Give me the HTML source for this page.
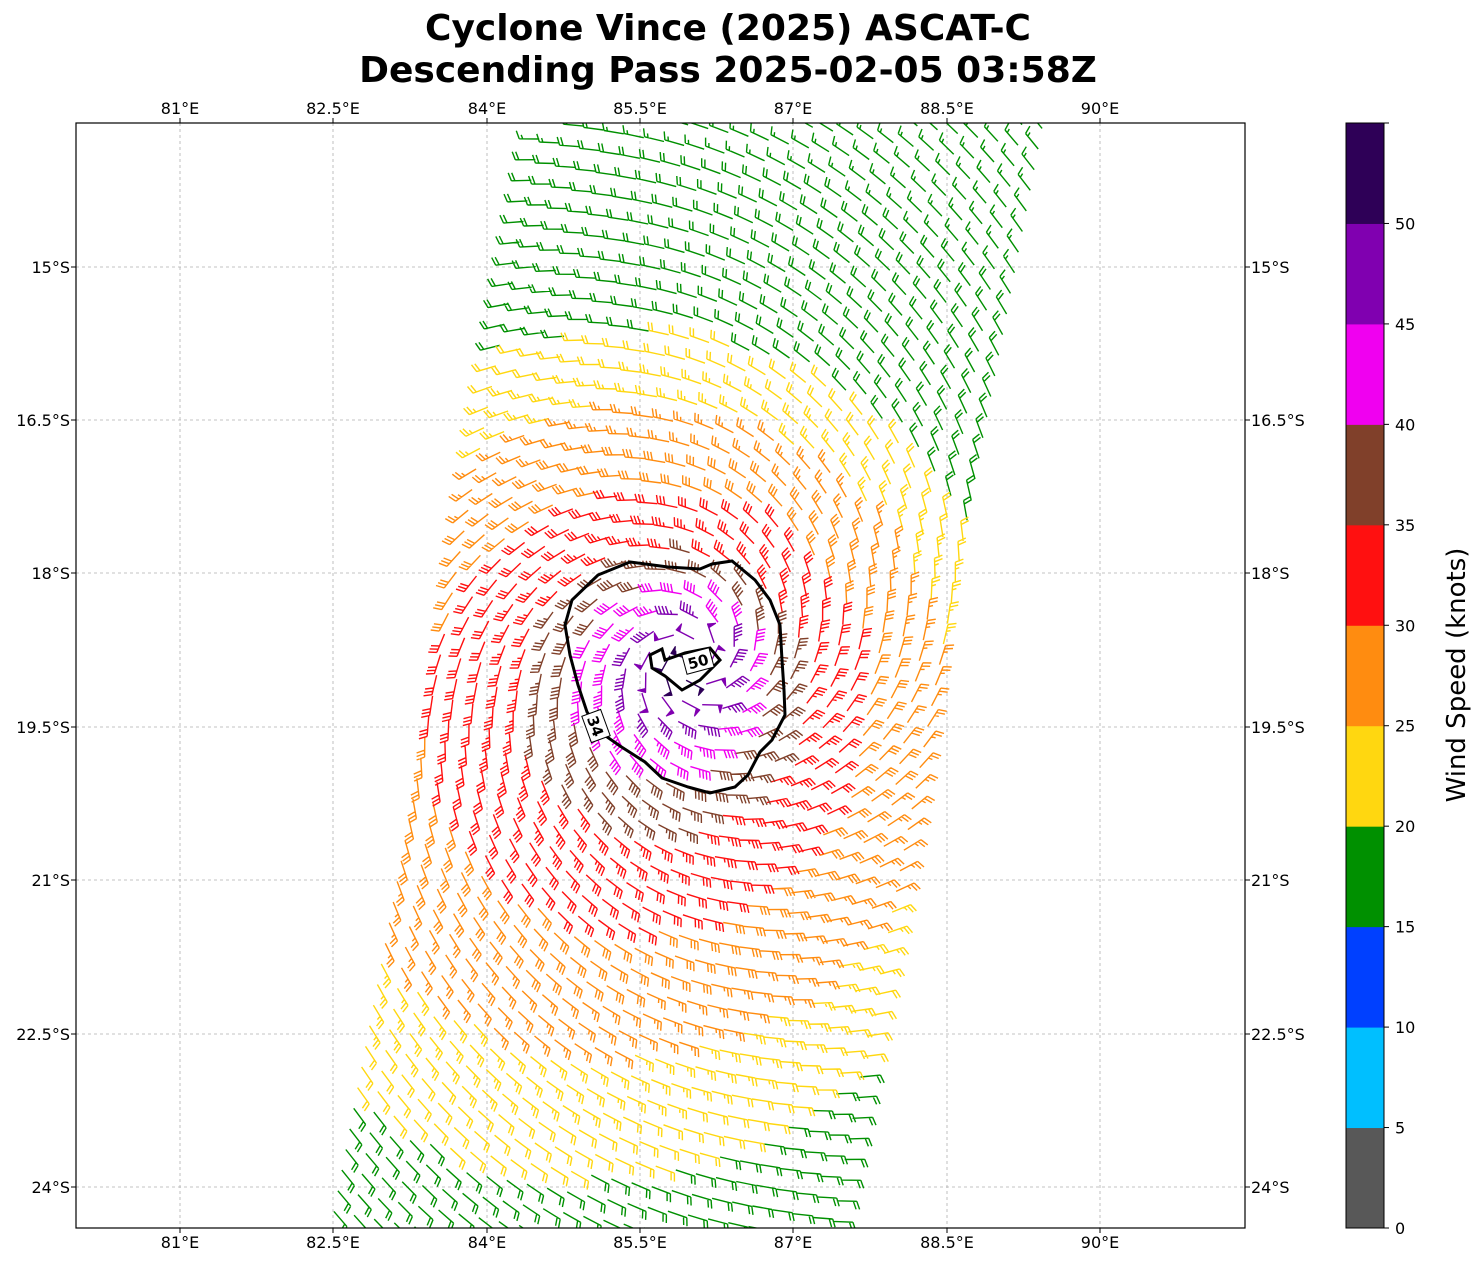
<!DOCTYPE html>
<html><head><meta charset="utf-8"><style>
html,body{margin:0;padding:0;background:#fff;}
svg{display:block;font-family:"DejaVu Sans","Liberation Sans",sans-serif;}
</style></head><body>
<svg id="s" width="1483" height="1264" viewBox="0 0 1483 1264" xmlns="http://www.w3.org/2000/svg">
<rect width="1483" height="1264" fill="#fff"/>
<text x="728" y="40" text-anchor="middle" font-size="36" font-weight="bold">Cyclone Vince (2025) ASCAT-C</text>
<text x="728" y="82" text-anchor="middle" font-size="36" font-weight="bold">Descending Pass 2025-02-05 03:58Z</text>
<defs><clipPath id="cp"><rect x="76" y="123" width="1169" height="1105"/></clipPath></defs>
<g id="grid" stroke="#b0b0b0" stroke-width="0.8" stroke-dasharray="3,3"></g>
<g id="barbs" clip-path="url(#cp)"></g>
<g id="cont" fill="none" stroke="#000" stroke-width="3"></g>
<rect x="76" y="123" width="1169" height="1105" fill="none" stroke="#000" stroke-width="1.2"/>
<g id="labels" font-size="16"></g>
<g id="cbar"></g>
<text transform="translate(1465,675) rotate(-90)" text-anchor="middle" font-size="26">Wind Speed (knots)</text>
</svg>
<script>
var NS="http://www.w3.org/2000/svg";
function el(t,a,p){var e=document.createElementNS(NS,t);for(var k in a)e.setAttribute(k,a[k]);p.appendChild(e);return e;}
var G=document.getElementById('grid'),L=document.getElementById('labels');
var lons=[["81°E",180],["82.5°E",333],["84°E",487],["85.5°E",640],["87°E",793],["88.5°E",947],["90°E",1100]];
lons.forEach(function(o){el('line',{x1:o[1],y1:123,x2:o[1],y2:1228},G);
 el('text',{x:o[1],y:114,'text-anchor':'middle'},L).textContent=o[0];
 el('text',{x:o[1],y:1248,'text-anchor':'middle'},L).textContent=o[0];
 el('line',{x1:o[1],y1:123,x2:o[1],y2:118,stroke:'#000'},L);el('line',{x1:o[1],y1:1228,x2:o[1],y2:1233,stroke:'#000'},L);});
var lats=[["15°S",267],["16.5°S",420],["18°S",573],["19.5°S",727],["21°S",880],["22.5°S",1034],["24°S",1187]];
lats.forEach(function(o){el('line',{x1:76,y1:o[1],x2:1245,y2:o[1]},G);
 el('text',{x:70,y:o[1]+6,'text-anchor':'end'},L).textContent=o[0];
 el('text',{x:1251,y:o[1]+6},L).textContent=o[0];
 el('line',{x1:71,y1:o[1],x2:76,y2:o[1],stroke:'#000'},L);el('line',{x1:1245,y1:o[1],x2:1250,y2:o[1],stroke:'#000'},L);});
var cols=["#585858","#00bfff","#0040ff","#009000","#ffd710","#ff8c10","#ff1010","#80402a","#f000f0","#8000b0","#2e0057"];
var CB=document.getElementById('cbar');var h=1105/11;
for(var i=0;i<11;i++){el('rect',{x:1346,y:1228-(i+1)*h,width:38,height:h+0.5,fill:cols[i]},CB);}
el('rect',{x:1346,y:123,width:38,height:1105,fill:'none',stroke:'#000','stroke-width':1},CB);
for(var i=0;i<=10;i++){var y=1228-i*h;el('line',{x1:1384,y1:y,x2:1389,y2:y,stroke:'#000'},CB);
 var t=el('text',{x:1395,y:y+6,'font-size':16},CB);t.textContent=i*5;}
el('line',{x1:1384,y1:123,x2:1389,y2:123,stroke:'#000'},CB);
var B=document.getElementById('barbs');var cx=690,cy=660;
var rs=[0,40,80,120,190,290,400,860,1100,1300],ss=[53,48,42,36,31,26,20,15,12,8];
function spd(r){for(var i=1;i<rs.length;i++){if(r<=rs[i]){var f=(r-rs[i-1])/(rs[i]-rs[i-1]);return ss[i-1]+f*(ss[i]-ss[i-1]);}}return 8;}
var w=[0.982,0.188],u=[0.188,-0.982];var paths={};
for(var i=0;i<25;i++)for(var j=0;j<62;j++){
 var px=330+i*20.5*w[0]+j*21*u[0],py=1232+i*20.5*w[1]+j*21*u[1];
 if(px<70||px>1250||py<118||py>1235)continue;
 var dx=px-cx,dy=py-cy,r=Math.sqrt(dx*dx+dy*dy)+0.01;
 var fac=1.02+0.22*(-dy/r)+0.2*(dx/r);
 var s=spd(r*fac);var k=Math.max(0,Math.min(10,Math.floor(s/5)));var c=cols[k];
 var vx=-dy/r-0.3*dx/r,vy=dx/r-0.3*dy/r;var vn=Math.sqrt(vx*vx+vy*vy);vx/=vn;vy/=vn;
 var ux=-vx,uy=-vy;
 var Ls=20,tx=px+ux*Ls,ty=py+uy*Ls;
 var nx=-uy,ny=ux;
 var p="M"+px.toFixed(1)+" "+py.toFixed(1)+"L"+tx.toFixed(1)+" "+ty.toFixed(1);
 var kn=Math.round(s/5)*5,pos=0,fl="";
 while(kn>=50){var ax=tx-ux*pos,ay=ty-uy*pos,bx=ax-ux*4,by=ay-uy*4;
  fl+="M"+ax.toFixed(1)+" "+ay.toFixed(1)+"L"+(ax+nx*8-ux*2).toFixed(1)+" "+(ay+ny*8-uy*2).toFixed(1)+"L"+bx.toFixed(1)+" "+by.toFixed(1)+"Z";kn-=50;pos+=5;}
 while(kn>=10){var ax=tx-ux*pos,ay=ty-uy*pos;p+="M"+ax.toFixed(1)+" "+ay.toFixed(1)+"l"+(nx*8+ux*3).toFixed(1)+" "+(ny*8+uy*3).toFixed(1);kn-=10;pos+=3.5;}
 if(kn>=5){if(pos==0)pos=3.5;var ax=tx-ux*pos,ay=ty-uy*pos;p+="M"+ax.toFixed(1)+" "+ay.toFixed(1)+"l"+(nx*4+ux*1.5).toFixed(1)+" "+(ny*4+uy*1.5).toFixed(1);}
 if(!paths[c])paths[c]={s:"",f:""};paths[c].s+=p;paths[c].f+=fl;}
for(var c in paths){el('path',{d:paths[c].s,stroke:c,'stroke-width':1.4,fill:'none'},B);if(paths[c].f)el('path',{d:paths[c].f,fill:c,stroke:c},B);}
var C=document.getElementById('cont');
el('path',{d:"M630 562 L668 567 L700 569 L712 564 L732 561 L755 580 L770 600 L780 625 L782 660 L784 690 L785 715 L772 740 L760 752 L748 775 L735 787 L710 793 L688 787 L662 778 L645 762 L620 746 L600 732 L587 712 L578 685 L570 655 L565 625 L572 600 L598 575 Z"},C);
el('path',{d:"M650 655 L662 649 L665 660 L685 653 L710 648 L720 660 L700 680 L682 690 L665 676 L652 668 Z"},C);
var g1=el('g',{transform:'translate(596,726) rotate(70)'},C);
el('rect',{x:-14,y:-10,width:28,height:20,fill:'#fff',stroke:'#000','stroke-width':1},g1);
var t1=el('text',{x:0,y:6,'text-anchor':'middle','font-size':15,'font-weight':'bold',fill:'#000',stroke:'none'},g1);t1.textContent="34";
var g2=el('g',{transform:'translate(698,661) rotate(-15)'},C);
el('rect',{x:-14,y:-10,width:28,height:20,fill:'#fff',stroke:'#000','stroke-width':1},g2);
var t2=el('text',{x:0,y:6,'text-anchor':'middle','font-size':15,'font-weight':'bold',fill:'#000',stroke:'none'},g2);t2.textContent="50";
</script>
</body></html>
